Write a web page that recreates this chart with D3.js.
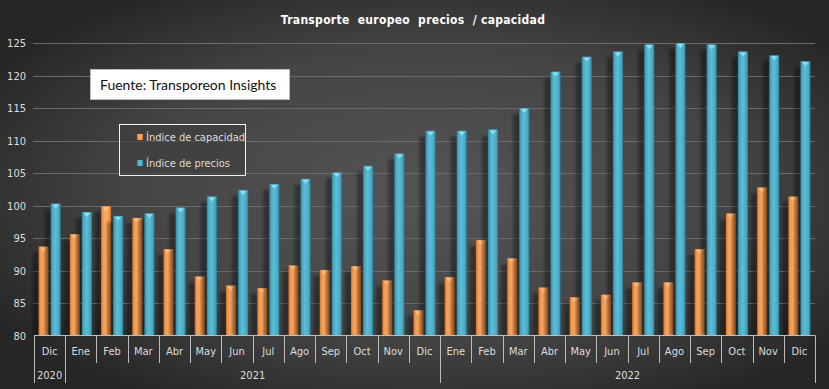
<!DOCTYPE html>
<html>
<head>
<meta charset="utf-8">
<script src="https://cdn.jsdelivr.net/npm/d3@7"></script>
<style>
  html, body { margin: 0; padding: 0; background: #333; }
  svg { display: block; }
</style>
</head>
<body>
<div id="chart"></div>
<script>
// Chart data
var months = ["Dic", "Ene", "Feb", "Mar", "Abr", "May", "Jun", "Jul", "Ago", "Sep", "Oct", "Nov", "Dic",
              "Ene", "Feb", "Mar", "Abr", "May", "Jun", "Jul", "Ago", "Sep", "Oct", "Nov", "Dic"];
var monthYears = ["2020",
                  "2021", "2021", "2021", "2021", "2021", "2021", "2021", "2021", "2021", "2021", "2021", "2021",
                  "2022", "2022", "2022", "2022", "2022", "2022", "2022", "2022", "2022", "2022", "2022", "2022"];
var capacidad = [93.7, 95.6, 99.9, 98.1, 93.3, 89.1, 87.7, 87.3, 90.8, 90.1, 90.7, 88.5, 83.9,
                 89.0, 94.7, 91.9, 87.4, 85.9, 86.3, 88.2, 88.2, 93.3, 98.8, 102.8, 101.4];
var precios = [100.3, 99.0, 98.4, 98.8, 99.7, 101.4, 102.4, 103.3, 104.1, 105.1, 106.1, 108.0, 111.5,
               111.5, 111.7, 115.0, 120.6, 122.9, 123.7, 124.8, 125.0, 124.8, 123.7, 123.1, 122.2];
var seriesNames = ["Índice de capacidad", "Índice de precios"];
var yTicks = [80, 85, 90, 95, 100, 105, 110, 115, 120, 125];
var title = "Transporte  europeo  precios  / capacidad";
var source = "Fuente: Transporeon Insights";

var width = 829, height = 389;
var labelFont = "'Liberation Sans Narrow', 'DejaVu Sans Condensed', sans-serif";

var svg = d3.select("#chart").append("svg")
    .attr("width", width)
    .attr("height", height);

var defs = svg.append("defs");

// Background radial gradient
var bg = defs.append("radialGradient").attr("id", "bg")
    .attr("cx", "52%").attr("cy", "50%").attr("r", "62%");
bg.append("stop").attr("offset", "0%").attr("stop-color", "#555555");
bg.append("stop").attr("offset", "60%").attr("stop-color", "#444444");
bg.append("stop").attr("offset", "100%").attr("stop-color", "#262626");

// Cylinder-ish gradients for the bars
function barGradient(id, edge, mid, light) {
    var g = defs.append("linearGradient").attr("id", id)
        .attr("x1", "0%").attr("x2", "100%").attr("y1", "0%").attr("y2", "0%");
    g.append("stop").attr("offset", "0%").attr("stop-color", edge);
    g.append("stop").attr("offset", "18%").attr("stop-color", mid);
    g.append("stop").attr("offset", "45%").attr("stop-color", light);
    g.append("stop").attr("offset", "80%").attr("stop-color", mid);
    g.append("stop").attr("offset", "100%").attr("stop-color", edge);
}
barGradient("gOrange", "#c86f2a", "#f79646", "#fbab65");
barGradient("gBlue", "#2f8197", "#4aabc6", "#5dbcd6");

var blur = defs.append("filter").attr("id", "blur")
    .attr("x", "-50%").attr("y", "-10%").attr("width", "200%").attr("height", "120%");
blur.append("feGaussianBlur").attr("stdDeviation", 1.5);

svg.append("rect")
    .attr("width", width).attr("height", height)
    .attr("fill", "url(#bg)");

// Scales
var x = d3.scaleBand()
    .domain(d3.range(months.length))
    .range([34, 815]);

var x1 = d3.scaleBand()
    .domain([0, 1])
    .range([0, x.bandwidth()])
    .paddingInner(0.17)
    .paddingOuter(0.38);

var y = d3.scaleLinear()
    .domain([80, 125])
    .range([335.5, 43]);

// Gridlines
svg.append("g")
    .attr("class", "grid")
    .selectAll("line").data(yTicks.slice(1))
    .enter().append("line")
    .attr("x1", 33).attr("x2", 815)
    .attr("y1", function(d) { return Math.round(y(d)) + 0.5; })
    .attr("y2", function(d) { return Math.round(y(d)) + 0.5; })
    .attr("stroke", "#6a6a6a")
    .attr("stroke-width", 1);

// Y axis labels
var yAxis = svg.append("g")
    .attr("transform", "translate(26,0)")
    .call(d3.axisLeft(y).tickValues(yTicks).tickSize(0).tickPadding(0));
yAxis.select(".domain").remove();
yAxis.selectAll("text")
    .attr("fill", "#dddddd")
    .attr("font-family", labelFont)
    .attr("font-size", "11px");

// Bars
var series = [
    { name: seriesNames[0], values: capacidad, fill: "url(#gOrange)", cap: "#fdc58f" },
    { name: seriesNames[1], values: precios, fill: "url(#gBlue)", cap: "#8fdcef" }
];

var groups = svg.append("g").attr("class", "bars")
    .selectAll("g").data(d3.range(months.length))
    .enter().append("g")
    .attr("transform", function(i) { return "translate(" + x(i) + ",0)"; });

series.forEach(function(s, si) {
    // soft shadow on the left
    groups.append("rect")
        .attr("x", x1(si) - 6)
        .attr("width", 7)
        .attr("y", function(i) { return y(s.values[i]) + 6; })
        .attr("height", function(i) { return y(80) - y(s.values[i]) - 6; })
        .attr("fill", "#000")
        .attr("opacity", 0.35)
        .attr("filter", "url(#blur)");

    groups.append("rect")
        .attr("x", x1(si))
        .attr("width", x1.bandwidth())
        .attr("y", function(i) { return y(s.values[i]); })
        .attr("height", function(i) { return y(80) - y(s.values[i]); })
        .attr("fill", s.fill);

    // lighter top cap
    groups.append("path")
        .attr("d", function(i) {
            var x0 = x1(si), w = x1.bandwidth(), t = y(s.values[i]);
            return "M" + (x0 + 1.5) + "," + (t + 1) + "L" + (x0 + w - 1.5) + "," + (t + 1) +
                   "L" + (x0 + w / 2) + "," + (t + 5) + "Z";
        })
        .attr("fill", s.cap);
});

// X axis
var axis = svg.append("g").attr("class", "x-axis");
axis.append("line")
    .attr("x1", 34).attr("x2", 815)
    .attr("y1", 335.5).attr("y2", 335.5)
    .attr("stroke", "#bdbdbd");

var boundaries = d3.range(months.length + 1);
axis.selectAll("line.sep").data(boundaries)
    .enter().append("line")
    .attr("class", "sep")
    .attr("x1", function(i) { return Math.round(i < months.length ? x(i) : x.range()[1]) + 0.5; })
    .attr("x2", function(i) { return Math.round(i < months.length ? x(i) : x.range()[1]) + 0.5; })
    .attr("y1", 335.5)
    .attr("y2", function(i) {
        var yearBreak = i === 0 || i === months.length || monthYears[i] !== monthYears[i - 1];
        return yearBreak ? 383 : 363;
    })
    .attr("stroke", "#bdbdbd");

axis.selectAll("text.month").data(months)
    .enter().append("text")
    .attr("class", "month")
    .attr("x", function(d, i) { return x(i) + x.bandwidth() / 2; })
    .attr("y", 351)
    .attr("dy", "0.35em")
    .attr("text-anchor", "middle")
    .attr("fill", "#dddddd")
    .attr("font-family", labelFont)
    .attr("font-size", "11px")
    .text(function(d) { return d; });

var yearGroups = d3.groups(d3.range(months.length), function(i) { return monthYears[i]; });
axis.selectAll("text.year").data(yearGroups)
    .enter().append("text")
    .attr("class", "year")
    .attr("x", function(d) {
        var first = d[1][0], last = d[1][d[1].length - 1];
        return (x(first) + x(last) + x.bandwidth()) / 2;
    })
    .attr("y", 375)
    .attr("dy", "0.35em")
    .attr("text-anchor", "middle")
    .attr("fill", "#dddddd")
    .attr("font-family", labelFont)
    .attr("font-size", "11px")
    .text(function(d) { return d[0]; });

// Title
svg.append("text")
    .attr("x", 413)
    .attr("y", 20)
    .attr("dy", "0.35em")
    .attr("text-anchor", "middle")
    .attr("fill", "#ffffff")
    .attr("font-family", labelFont)
    .attr("font-weight", "bold")
    .attr("font-size", "12px")
    .attr("letter-spacing", "0.3px")
    .attr("xml:space", "preserve")
    .style("white-space", "pre")
    .text(title);

// Source box
svg.append("rect")
    .attr("x", 90.5).attr("y", 69.5)
    .attr("width", 199).attr("height", 30)
    .attr("fill", "#ffffff")
    .attr("stroke", "#bbbbbb");
svg.append("text")
    .attr("x", 100).attr("y", 85)
    .attr("dy", "0.35em")
    .attr("fill", "#111111")
    .attr("font-family", "Lato, sans-serif")
    .attr("font-size", "14px")
    .text(source);

// Legend
var legend = svg.append("g").attr("class", "legend");
legend.append("rect")
    .attr("x", 119.5).attr("y", 124.5)
    .attr("width", 126).attr("height", 51)
    .attr("fill", "#3e3e3e")
    .attr("fill-opacity", 0.6)
    .attr("stroke", "#f2f2f2");
var items = legend.selectAll("g.item").data(series)
    .enter().append("g")
    .attr("class", "item")
    .attr("transform", function(d, i) { return "translate(137," + (137 + i * 26) + ")"; });
items.append("rect")
    .attr("x", 0).attr("y", -3)
    .attr("width", 6).attr("height", 6)
    .attr("fill", function(d) { return d.fill; });
items.append("text")
    .attr("x", 9)
    .attr("dy", "0.35em")
    .attr("fill", "#dddddd")
    .attr("font-family", labelFont)
    .attr("font-size", "11px")
    .text(function(d) { return d.name; });
</script>
</body>
</html>
